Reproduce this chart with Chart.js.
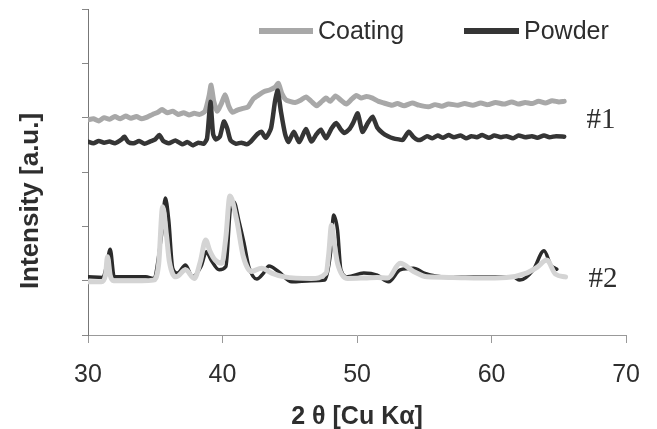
<!DOCTYPE html>
<html>
<head>
<meta charset="utf-8">
<script src="https://cdn.jsdelivr.net/npm/chart.js@4.4.1/dist/chart.umd.min.js"></script>
<style>
html,body{margin:0;padding:0;background:#fff;}
#wrap{width:657px;height:429px;position:relative;}
</style>
</head>
<body>
<div id="wrap"><canvas id="c" width="657" height="429"></canvas></div>
<script>
// ---- data (2θ in degrees, intensity in arbitrary units, offset stacked) ----
const xTicks = [30, 40, 50, 60, 70];
const seriesNames = ["Coating", "Powder"];
const sampleLabels = ["#1", "#2"];

const coating1Theta = [30.0,30.4,30.8,31.2,31.6,32.0,32.4,32.8,33.2,33.6,34.0,34.4,34.8,35.2,35.5,35.9,36.3,36.7,37.1,37.5,37.9,38.3,38.7,39.0,39.15,39.35,39.6,39.9,40.2,40.45,40.75,41.1,41.5,41.9,42.3,42.7,43.1,43.5,43.9,44.15,44.4,44.7,45.0,45.4,45.8,46.2,46.6,47.0,47.3,47.7,48.0,48.4,48.8,49.2,49.6,49.95,50.3,50.7,51.15,51.6,52.0,52.6,53.0,53.5,54.1,54.6,55.3,55.8,56.3,56.8,57.5,58.0,58.6,59.2,59.7,60.3,60.9,61.5,62.0,62.5,63.0,63.5,64.0,64.5,65.0,65.4];
const coating1Int   = [3.96,3.98,3.94,4.00,3.97,4.02,3.98,4.03,3.99,4.02,3.98,4.01,4.06,4.10,4.15,4.09,4.12,4.06,4.09,4.05,4.08,4.06,4.12,4.40,4.60,4.30,4.12,4.25,4.42,4.22,4.10,4.14,4.17,4.20,4.35,4.42,4.48,4.51,4.56,4.63,4.45,4.33,4.30,4.28,4.32,4.38,4.30,4.22,4.28,4.36,4.30,4.40,4.32,4.25,4.34,4.41,4.36,4.39,4.36,4.30,4.27,4.23,4.26,4.22,4.27,4.23,4.20,4.24,4.21,4.25,4.23,4.26,4.23,4.27,4.24,4.28,4.25,4.29,4.25,4.28,4.26,4.30,4.27,4.31,4.29,4.30];

const powder1Theta = [30.0,30.4,30.8,31.2,31.6,32.0,32.5,32.7,33.0,33.4,33.8,34.2,34.6,35.0,35.3,35.6,36.0,36.5,37.0,37.4,37.8,38.2,38.6,38.85,39.1,39.3,39.5,39.8,40.1,40.35,40.6,41.0,41.4,41.8,42.1,42.6,42.9,43.2,43.6,43.9,44.1,44.35,44.65,44.9,45.3,45.7,46.2,46.6,47.0,47.3,47.7,48.1,48.45,48.8,49.05,49.4,49.7,50.05,50.4,50.8,51.15,51.5,51.9,52.3,52.7,53.1,53.4,53.85,54.2,54.5,54.8,55.2,55.6,56.0,56.4,56.8,57.2,57.7,58.1,58.5,58.9,59.3,59.8,60.2,60.7,61.1,61.6,62.0,62.5,63.0,63.4,63.9,64.3,64.8,65.4];
const powder1Int   = [3.56,3.53,3.57,3.54,3.56,3.53,3.60,3.65,3.55,3.53,3.57,3.52,3.56,3.60,3.68,3.57,3.53,3.58,3.51,3.55,3.49,3.54,3.52,3.62,4.29,3.70,3.60,3.65,3.93,3.80,3.58,3.52,3.54,3.51,3.56,3.70,3.74,3.63,3.80,4.30,4.50,4.10,3.70,3.55,3.74,3.55,3.79,3.56,3.70,3.78,3.62,3.80,3.90,3.78,3.72,3.78,3.90,4.08,3.74,3.90,4.02,3.82,3.72,3.66,3.62,3.60,3.59,3.74,3.64,3.59,3.60,3.66,3.62,3.67,3.63,3.68,3.64,3.67,3.62,3.66,3.64,3.68,3.63,3.67,3.64,3.66,3.62,3.67,3.64,3.66,3.63,3.67,3.64,3.66,3.65];

const coating2Theta = [30.0,31.0,31.3,31.45,31.65,31.9,33.0,34.0,34.85,35.25,35.55,35.85,36.05,36.55,37.25,37.9,38.35,38.75,39.05,39.45,39.95,40.25,40.55,41.05,41.55,42.15,42.9,43.65,44.6,46.6,47.7,47.9,48.1,48.3,48.55,49.3,50.6,51.5,52.3,53.2,54.2,55.2,57.1,59.1,61.1,62.6,63.4,64.1,64.75,65.5];
const coating2Int   = [0.98,0.98,1.10,1.44,1.10,1.00,1.00,1.00,1.01,1.30,2.36,1.80,1.35,1.07,1.20,1.04,1.35,1.75,1.55,1.38,1.32,1.80,2.56,2.12,1.44,1.17,1.23,1.14,1.07,1.04,1.14,1.50,2.02,1.70,1.32,1.04,1.05,1.06,1.05,1.32,1.17,1.07,1.06,1.05,1.06,1.14,1.25,1.38,1.12,1.07];

const powder2Theta = [30.0,31.1,31.4,31.65,31.95,33.0,34.3,34.85,35.45,35.75,36.0,36.3,36.65,37.25,37.75,38.4,38.8,39.15,39.75,40.25,40.6,40.85,41.2,41.6,41.95,42.55,43.05,43.45,44.15,45.15,46.6,47.6,48.05,48.25,48.55,48.8,49.3,50.5,51.5,52.35,53.2,54.2,55.0,56.6,58.6,61.6,62.1,63.1,63.9,64.4,64.85];
const powder2Int   = [1.07,1.06,1.30,1.58,1.07,1.07,1.07,1.04,1.81,2.52,2.12,1.23,1.14,1.29,1.07,1.26,1.53,1.38,1.20,1.26,2.36,2.45,2.12,1.69,1.26,1.03,1.14,1.27,1.17,0.98,1.00,1.01,1.56,2.21,1.93,1.20,1.07,1.14,1.10,0.98,1.20,1.23,1.14,1.07,1.07,1.07,1.01,1.20,1.55,1.29,1.21];

const yMin = 0, yMax = 6, yStep = 1;

// ---- build ----
function pts(xs, ys){ return xs.map((x,i)=>({x:x, y:ys[i]})); }

const COAT1 = '#a8a8a8', POW1 = '#353535', COAT2 = '#d4d4d4', POW2 = '#2b2b2b';
const FONT = '"Liberation Sans", Arial, sans-serif';

const overlay = {
  id: 'overlay',
  afterDraw(chart){
    const ctx = chart.ctx;
    const xs = chart.scales.x, ys = chart.scales.y;
    const ds = chart.data.datasets;
    ctx.save();
    // legend
    ctx.font = '25px ' + FONT;
    ctx.textBaseline = 'middle';
    ctx.textAlign = 'left';
    const items = [
      {x0: 259, x1: 313, tx: 318, color: ds[0].borderColor, text: ds[0].label},
      {x0: 464, x1: 519, tx: 524, color: ds[1].borderColor, text: ds[1].label}
    ];
    items.forEach(it => {
      ctx.strokeStyle = it.color;
      ctx.lineWidth = 6;
      ctx.lineCap = 'butt';
      ctx.beginPath();
      ctx.moveTo(it.x0, 31); ctx.lineTo(it.x1, 31);
      ctx.stroke();
      ctx.fillStyle = '#2e2e2e';
      ctx.fillText(it.text, it.tx, 32);
    });
    // sample labels
    ctx.font = '29px "Liberation Serif", "Times New Roman", serif';
    ctx.fillStyle = '#2e2e2e';
    ctx.textAlign = 'left';
    ctx.fillText(sampleLabels[0], xs.getPixelForValue(67.05), ys.getPixelForValue(3.96) + 1);
    ctx.fillText(sampleLabels[1], xs.getPixelForValue(67.2), ys.getPixelForValue(1.05) + 1);
    // y title
    ctx.font = 'bold 26px ' + FONT;
    ctx.translate(31, 201);
    ctx.rotate(-Math.PI/2);
    ctx.textAlign = 'center';
    ctx.textBaseline = 'middle';
    ctx.fillStyle = '#2e2e2e';
    ctx.fillText('Intensity [a.u.]', 0, 0);
    ctx.restore();
  }
};

new Chart(document.getElementById('c'), {
  type: 'line',
  data: {
    datasets: [
      {label: seriesNames[0], data: pts(coating1Theta, coating1Int), borderColor: COAT1, borderWidth: 5, order: 3, tension: 0.2},
      {label: seriesNames[1], data: pts(powder1Theta, powder1Int), borderColor: POW1, borderWidth: 4.5, order: 2, tension: 0.2},
      {label: seriesNames[0] + ' #2', data: pts(coating2Theta, coating2Int), borderColor: COAT2, borderWidth: 5, order: 0, cubicInterpolationMode: 'monotone'},
      {label: seriesNames[1] + ' #2', data: pts(powder2Theta, powder2Int), borderColor: POW2, borderWidth: 3.5, order: 1, cubicInterpolationMode: 'monotone'}
    ]
  },
  options: {
    responsive: false,
    animation: false,
    devicePixelRatio: 1,
    layout: {padding: {left: 0, right: 27, top: 9, bottom: 0}},
    elements: {
      point: {radius: 0},
      line: {borderJoinStyle: 'round', borderCapStyle: 'round', fill: false}
    },
    plugins: {legend: {display: false}, tooltip: {enabled: false}},
    scales: {
      x: {
        type: 'linear', min: xTicks[0], max: xTicks[xTicks.length-1],
        afterBuildTicks(s){ s.ticks = xTicks.map(v => ({value: v})); },
        ticks: {font: {size: 25, family: FONT}, color: '#2e2e2e', padding: 17, maxRotation: 0},
        grid: {drawOnChartArea: false, drawTicks: true, tickLength: 8, color: '#999'},
        border: {display: true, color: '#999', width: 1},
        title: {display: true, text: '2 \u03b8 [Cu K\u03b1]', font: {size: 25, weight: 'bold', family: FONT}, color: '#2e2e2e', padding: {top: 0, bottom: -3}},
        afterFit(s){ s.height = 94; }
      },
      y: {
        min: yMin, max: yMax,
        ticks: {display: false, stepSize: yStep},
        grid: {drawOnChartArea: false, drawTicks: true, tickLength: 6, color: '#888'},
        border: {display: true, color: '#777', width: 1},
        afterFit(s){ s.width = 88; }
      }
    }
  },
  plugins: [overlay]
});
</script>
</body>
</html>
